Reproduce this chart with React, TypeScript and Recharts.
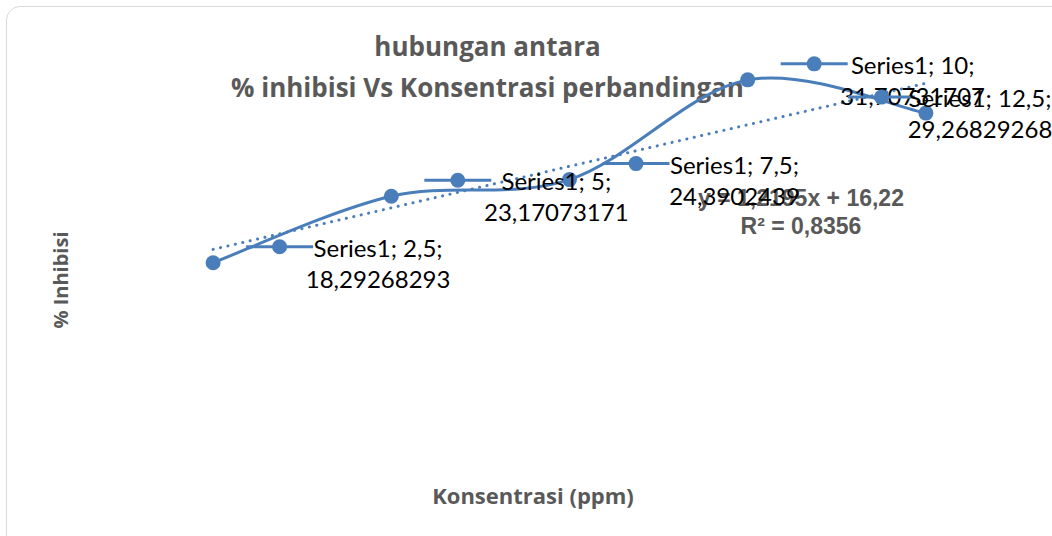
import React from "react";
import { ComposedChart, Line, XAxis, YAxis, LabelList } from "recharts";

// konsentrasi (ppm) and % inhibisi
const konsentrasi = [2.5, 5, 7.5, 10, 12.5];
const inhibisi = [18.29268293, 23.17073171, 24.3902439, 31.70731707, 29.26829268];
const seriesName = "Series1";

// linear trendline ends, as drawn (y = 1,2195x + 16,22)
const trendX = [2.5, 12.5];
const trendY = [19.27, 31.46];
const trendEquation = "y = 1,2195x + 16,22";
const trendR2 = "R² = 0,8356";

const chartTitle = ["hubungan antara", "% inhibisi Vs Konsentrasi perbandingan"];
const xTitle = "Konsentrasi (ppm)";
const yTitle = "% Inhibisi";

const W = 1052;
const H = 536;
const BLUE = "#4a7ebb";
const GRAY = "#595959";

const data = konsentrasi.map((x, i) => ({ x, y: inhibisi[i] }));
const trendData = trendX.map((x, i) => ({ x, y: trendY[i] }));

const fmt = (v: number) => String(v).replace(".", ",");

/** Excel-like smoothed line (cubic bezier through every point). */
function excelSmooth(context: any) {
    let pts: [number, number][] = [];
    return {
        areaStart() {},
        areaEnd() {},
        lineStart() { pts = []; },
        point(x: number, y: number) { pts.push([+x, +y]); },
        lineEnd() {
            if (!pts.length) return;
            context.moveTo(pts[0][0], pts[0][1]);
            for (let i = 0; i < pts.length - 1; i++) {
                const p0 = pts[Math.max(i - 1, 0)];
                const p1 = pts[i];
                const p2 = pts[i + 1];
                const p3 = pts[Math.min(i + 2, pts.length - 1)];
                context.bezierCurveTo(
                    p1[0] + (p2[0] - p0[0]) / 6, p1[1] + (p2[1] - p0[1]) / 6,
                    p2[0] - (p3[0] - p1[0]) / 6, p2[1] - (p3[1] - p1[1]) / 6,
                    p2[0], p2[1],
                );
            }
        },
    };
}

// data label with legend key: "Series1; x;" / "y"
const DataLabel = (props: any) => {
    const { x, y, index } = props;
    if (x == null || y == null) return null;
    const line1 = `${seriesName}; ${fmt(konsentrasi[index])};`;
    const line2 = fmt(inhibisi[index]);
    let cx = x + 165;
    const half = 70;
    const shift = Math.min(0, W - 2 - (cx + half));
    cx += shift;
    const kx = x + 33 + shift;
    return (
        <g>
            <line x1={kx} y1={y - 16} x2={kx + 67} y2={y - 16} stroke={BLUE} strokeWidth={3} />
            <circle cx={kx + 33.5} cy={y - 16} r={7.5} fill={BLUE} />
            <text x={cx} y={y - 6} textAnchor="middle" fontFamily="Lato" fontSize={24} fill="#000">{line1}</text>
            <text x={cx} y={y + 25} textAnchor="middle" fontFamily="Lato" fontSize={24} fill="#000">{line2}</text>
        </g>
    );
};

export default function App() {
    return (
        <div style={{ position: "absolute", left: 0, top: 0, width: W, height: H, overflow: "hidden", background: "#fff" }}>
            <div style={{
                position: "absolute", left: 6, top: 6, width: W + 40, height: H + 40,
                border: "1.5px solid #d9d9d9", borderRadius: 14, boxSizing: "border-box",
            }} />
            <div style={{
                position: "absolute", left: 0, width: 975, top: 26, textAlign: "center",
                fontFamily: "Open Sans", fontWeight: 700, fontSize: 26, color: GRAY, lineHeight: "41px",
            }}>
                {chartTitle.map((t) => <div key={t}>{t}</div>)}
            </div>
            <div style={{
                position: "absolute", left: 60, top: 280, transform: "translate(-50%, -50%) rotate(-90deg)",
                fontFamily: "Open Sans", fontWeight: 700, fontSize: 20, color: GRAY, whiteSpace: "nowrap",
            }}>{yTitle}</div>
            <div style={{
                position: "absolute", left: 533, top: 495, transform: "translate(-50%, -50%)",
                fontFamily: "Open Sans", fontWeight: 700, fontSize: 22, color: GRAY, whiteSpace: "nowrap",
            }}>{xTitle}</div>
            <div style={{
                position: "absolute", left: 801, top: 212, transform: "translate(-50%, -50%)", textAlign: "center",
                fontFamily: "Liberation Sans", fontWeight: 700, fontSize: 23, color: GRAY, lineHeight: "28px", whiteSpace: "nowrap",
            }}>
                <div>{trendEquation}</div>
                <div>{trendR2}</div>
            </div>
            <div style={{ position: "absolute", left: 0, top: 0 }}>
                <ComposedChart width={W} height={H} data={data} margin={{ top: 35, right: 37, bottom: 24, left: 124 }}>
                    <XAxis type="number" dataKey="x" domain={[1.25, 13.75]} hide />
                    <YAxis type="number" domain={[0, 35]} hide />
                    <Line
                        data={trendData}
                        dataKey="y"
                        type="linear"
                        stroke={BLUE}
                        strokeWidth={3}
                        strokeDasharray="0.1 7.5"
                        strokeLinecap="round"
                        dot={false}
                        activeDot={false}
                        isAnimationActive={false}
                    />
                    <Line
                        dataKey="y"
                        type={excelSmooth as any}
                        stroke={BLUE}
                        strokeWidth={3}
                        dot={{ r: 7.5, fill: BLUE, stroke: BLUE, strokeWidth: 0 }}
                        activeDot={false}
                        isAnimationActive={false}
                    >
                        <LabelList dataKey="y" content={DataLabel} />
                    </Line>
                </ComposedChart>
            </div>
        </div>
    );
}
